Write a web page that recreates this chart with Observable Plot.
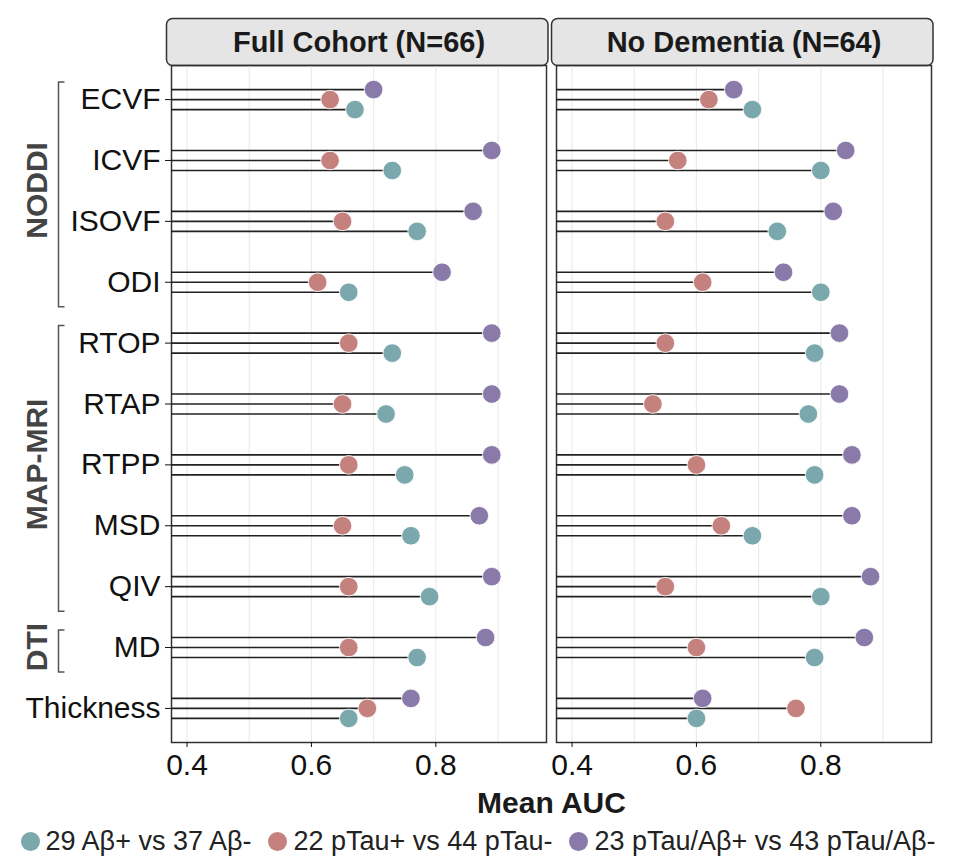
<!DOCTYPE html>
<html><head><meta charset="utf-8">
<script src="https://cdn.jsdelivr.net/npm/d3@7"></script>
<script src="https://cdn.jsdelivr.net/npm/@observablehq/plot@0.6"></script>
<style>
body{margin:0;background:#fff;font-family:"Liberation Sans",Arial,Helvetica,sans-serif;}
#chart{width:956px;}
.legend{display:flex;justify-content:center;align-items:center;gap:17px;height:38px;font-size:27px;color:#222;width:956px;}
.item{display:flex;align-items:center;gap:6px;}
.sw{width:19px;height:19px;border-radius:50%;display:inline-block;}
</style></head><body><div id="chart"></div><div class="legend" id="legend"></div>
<script>
// ---------- data ----------
const metrics = ["ECVF","ICVF","ISOVF","ODI","RTOP","RTAP","RTPP","MSD","QIV","MD","Thickness"];
const cohorts = ["Full Cohort (N=66)","No Dementia (N=64)"];
const seriesNames = ["29 Aβ+ vs 37 Aβ-","22 pTau+ vs 44 pTau-","23 pTau/Aβ+ vs 43 pTau/Aβ-"];
const seriesColors = ["#7aa8ac","#c4817e","#8a7aa9"];

const fullAbeta   = [0.67,0.73,0.77,0.66,0.73,0.72,0.75,0.76,0.79,0.77,0.66];
const fullPtau    = [0.63,0.63,0.65,0.61,0.66,0.65,0.66,0.65,0.66,0.66,0.69];
const fullBoth    = [0.70,0.89,0.86,0.81,0.89,0.89,0.89,0.87,0.89,0.88,0.76];
const noDemAbeta  = [0.69,0.80,0.73,0.80,0.79,0.78,0.79,0.69,0.80,0.79,0.60];
const noDemPtau   = [0.62,0.57,0.55,0.61,0.55,0.53,0.60,0.64,0.55,0.60,0.76];
const noDemBoth   = [0.66,0.84,0.82,0.74,0.83,0.83,0.85,0.85,0.88,0.87,0.61];

const groups = [
  {label:"NODDI", first:"ECVF", last:"ODI"},
  {label:"MAP-MRI", first:"RTOP", last:"QIV"},
  {label:"DTI", first:"MD", last:"MD"}
];
const xTicks = [0.4,0.6,0.8];
const gridTicks = [0.4,0.5,0.6,0.7,0.8,0.9];
const xDomain = [0.375,0.978];
const axisTitle = "Mean AUC";

// ---------- build rows ----------
const valuesByCohort = [[fullAbeta,fullPtau,fullBoth],[noDemAbeta,noDemPtau,noDemBoth]];
const rows = [];
cohorts.forEach((c,ci)=>valuesByCohort[ci].forEach((vals,si)=>vals.forEach((v,mi)=>
  rows.push({cohort:c, series:seriesNames[si], s:si, metric:metrics[mi], value:v}))));

const seriesDy = [10,0,-10];
const W = 956, H = 822, mL = 171, mR = 25, mT = 65, mB = 80;
const panelH = H - mT - mB;

const marks = [
  // facet strip
  Plot.frame({fill:"#e5e5e5", stroke:"#333", strokeWidth:1.5, rx:6,
              insetTop:-47, insetBottom:panelH, insetLeft:-5, insetRight:-1.5}),
  Plot.text(cohorts, {fx:d=>d, text:d=>d, frameAnchor:"top", lineAnchor:"middle", dy:-23,
              fontSize:29, fontWeight:"bold", fill:"#1a1a1a"}),
  Plot.gridX(gridTicks, {stroke:"#ebebeb", strokeOpacity:1, strokeWidth:1.2}),
  Plot.frame({stroke:"#333", strokeWidth:1.5}),
  Plot.axisX(xTicks, {tickFormat:d3.format(".1f"), tickSize:5, tickPadding:6,
              fontSize:30, color:"#111", label:null}),
  Plot.axisY({tickSize:6, tickPadding:5, fontSize:30, color:"#111", label:null}),
];
seriesNames.forEach((name,i)=>{
  marks.push(Plot.ruleY(rows.filter(d=>d.s===i), {fx:"cohort", y:"metric",
    x1:()=>xDomain[0], x2:"value", dy:seriesDy[i], stroke:"#222", strokeWidth:1.6}));
});
seriesNames.forEach((name,i)=>{
  marks.push(Plot.dot(rows.filter(d=>d.s===i), {fx:"cohort", x:"value", y:"metric",
    dy:seriesDy[i], r:9.3, fill:"series", stroke:"white", strokeWidth:0.8}));
});
marks.push(Plot.text([axisTitle], {text:d=>d, frameAnchor:"bottom", lineAnchor:"middle", dy:61, facet:"super",
    fontSize:30, fontWeight:"bold", fill:"#1a1a1a"}));

const plot = Plot.plot({
  width:W, height:H, marginLeft:mL, marginRight:mR, marginTop:mT, marginBottom:mB,
  style:{fontFamily:"'Liberation Sans', Arial, Helvetica, sans-serif", background:"white"},
  x:{domain:xDomain},
  y:{type:"point", domain:metrics, padding:0.56, round:false},
  fx:{domain:cohorts, paddingInner:0.026, paddingOuter:0, round:false, axis:null, label:null},
  color:{domain:seriesNames, range:seriesColors},
  marks
});
document.getElementById("chart").appendChild(plot);

// group brackets and labels, positioned with the plot's y scale
const yS = plot.scale("y");
const svg = d3.select(plot.tagName.toLowerCase()==="svg" ? plot : plot.querySelector("svg"));
const g = svg.append("g");
groups.forEach(gr=>{
  const a = yS.apply(gr.first), b = yS.apply(gr.last);
  const y1 = a - 17, y2 = b + 25;
  g.append("path").attr("d",`M64.5,${y1}H58.5V${y2}H64.5`)
    .attr("fill","none").attr("stroke","#555").attr("stroke-width",1.5);
  g.append("text").attr("transform",`translate(36,${(a+b)/2}) rotate(-90)`)
    .attr("text-anchor","middle").attr("dominant-baseline","central")
    .attr("font-size",30).attr("font-weight","bold").attr("fill","#444")
    .attr("font-family","'Liberation Sans', Arial, sans-serif").text(gr.label);
});

// legend
const leg = d3.select("#legend");
seriesNames.forEach((n,i)=>{
  const it = leg.append("div").attr("class","item");
  it.append("span").attr("class","sw").style("background",seriesColors[i]);
  it.append("span").text(n);
});
</script></body></html>
